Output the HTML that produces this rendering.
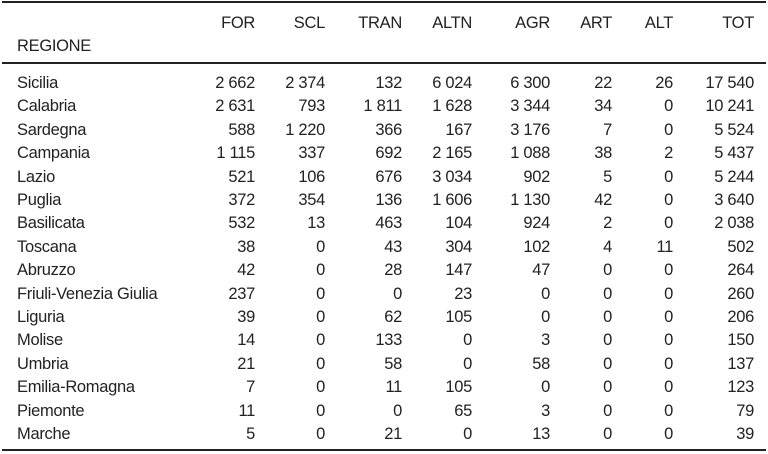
<!DOCTYPE html>
<html><head><meta charset="utf-8"><style>
body{margin:0;background:#fff;width:768px;height:454px;overflow:hidden;font-family:"Liberation Sans",sans-serif;color:#222;}
.w{position:relative;width:768px;height:454px;font-size:16.5px;}
.l{position:absolute;left:2px;width:764px;background:#222;}
.t{position:absolute;line-height:20px;white-space:nowrap;letter-spacing:-0.3px;}
.r{text-align:right;width:80px;}
</style></head><body><div class="w">
<div class="l" style="top:1px;height:2px"></div>
<div class="l" style="top:62px;height:2px"></div>
<div class="l" style="top:449px;height:2px"></div>
<div id="c"></div>
</div>
<script>
var rights=[255,325,402,472,550,612,673,754];
var hdr=["FOR","SCL","TRAN","ALTN","AGR","ART","ALT","TOT"];
var rows=[["Sicilia","2 662","2 374","132","6 024","6 300","22","26","17 540"],
["Calabria","2 631","793","1 811","1 628","3 344","34","0","10 241"],
["Sardegna","588","1 220","366","167","3 176","7","0","5 524"],
["Campania","1 115","337","692","2 165","1 088","38","2","5 437"],
["Lazio","521","106","676","3 034","902","5","0","5 244"],
["Puglia","372","354","136","1 606","1 130","42","0","3 640"],
["Basilicata","532","13","463","104","924","2","0","2 038"],
["Toscana","38","0","43","304","102","4","11","502"],
["Abruzzo","42","0","28","147","47","0","0","264"],
["Friuli-Venezia Giulia","237","0","0","23","0","0","0","260"],
["Liguria","39","0","62","105","0","0","0","206"],
["Molise","14","0","133","0","3","0","0","150"],
["Umbria","21","0","58","0","58","0","0","137"],
["Emilia-Romagna","7","0","11","105","0","0","0","123"],
["Piemonte","11","0","0","65","3","0","0","79"],
["Marche","5","0","21","0","13","0","0","39"]];
var h="";
hdr.forEach(function(s,i){h+='<div class="t r" style="top:13px;left:'+(rights[i]-80)+'px">'+s+'</div>';});
h+='<div class="t" style="top:36px;left:17px">REGIONE</div>';
rows.forEach(function(r,j){var y=73+j*23.4;
h+='<div class="t" style="top:'+y+'px;left:17px">'+r[0]+'</div>';
for(var i=1;i<9;i++)h+='<div class="t r" style="top:'+y+'px;left:'+(rights[i-1]-80)+'px">'+r[i]+'</div>';});
document.getElementById("c").innerHTML=h;
</script>
</body></html>
